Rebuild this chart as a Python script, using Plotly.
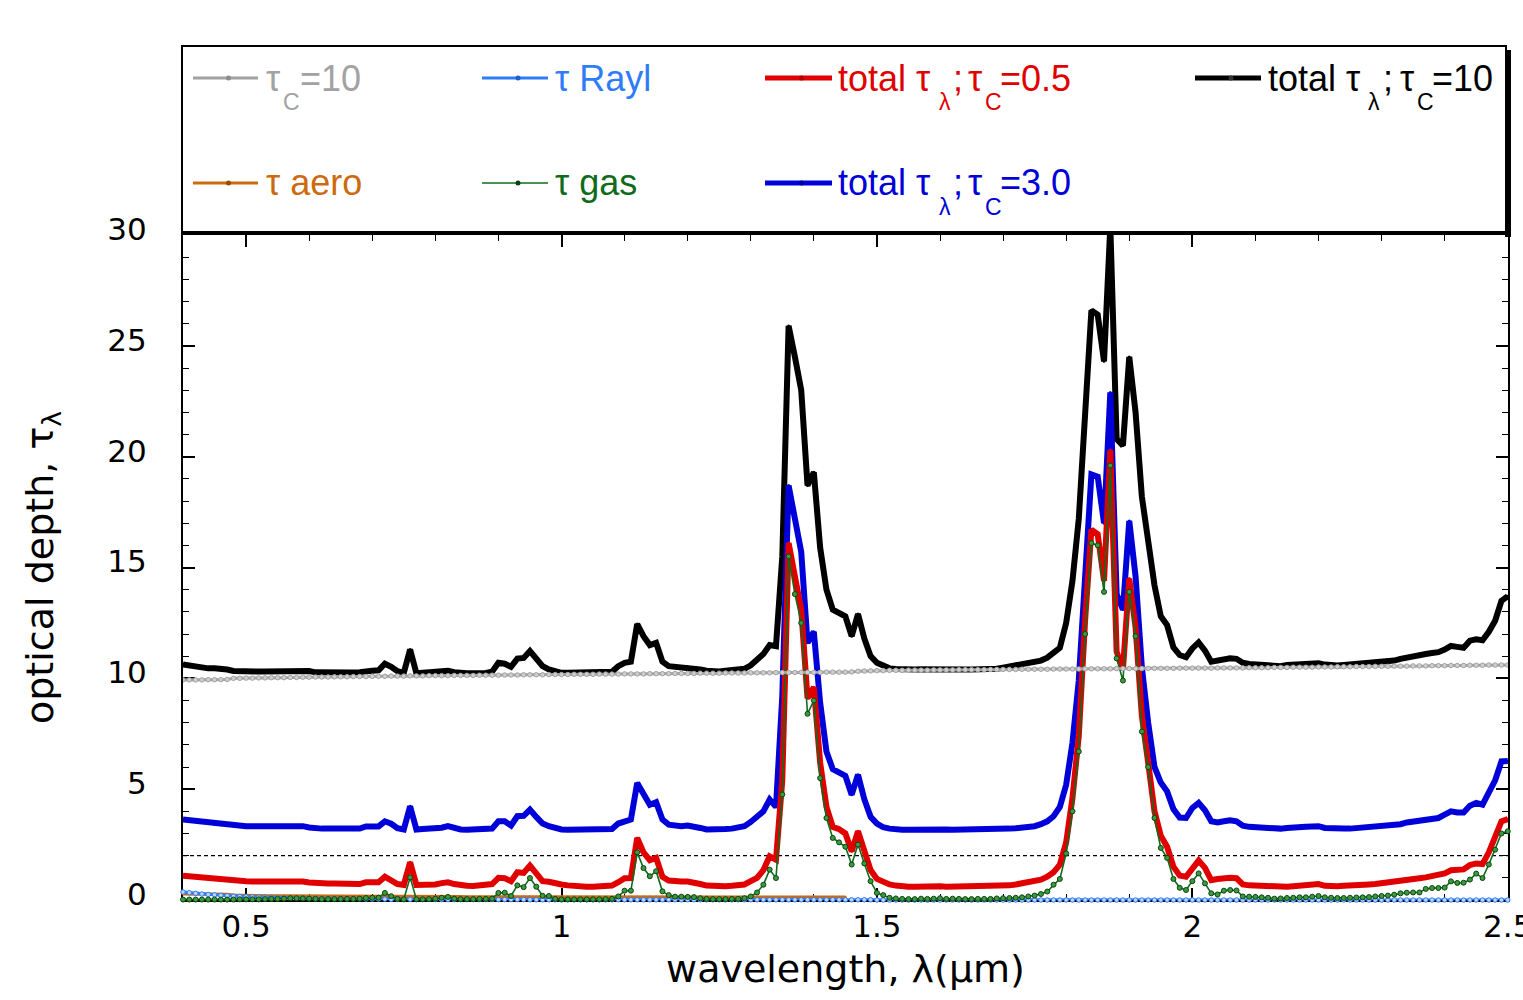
import plotly.graph_objects as go

# ---------------------------------------------------------------------------
# Spectral optical depth: gas, Rayleigh, aerosol and cloud contributions
# Sampling grid: 0.40 .. 2.50 um, every 0.01 um
# ---------------------------------------------------------------------------
WAVELENGTH_UM = [round(0.40 + 0.01 * i, 2) for i in range(211)]
AERO_WAVELENGTH_UM = WAVELENGTH_UM[:106]          # aerosol data 0.40 .. 1.45 um

TAU_GAS = [
    0.02, 0.02, 0.02, 0.02, 0.02, 0.02, 0.02, 0.02, 0.02, 0.03,
    0.03, 0.03, 0.03, 0.04, 0.05, 0.05, 0.06, 0.08, 0.08, 0.07,
    0.06, 0.05, 0.04, 0.04, 0.04, 0.05, 0.05, 0.05, 0.06, 0.09,
    0.10, 0.10, 0.32, 0.17, 0.05, 0.03, 1.02, 0.03, 0.03, 0.04,
    0.06, 0.10, 0.14, 0.06, 0.04, 0.04, 0.04, 0.05, 0.05, 0.06,
    0.32, 0.33, 0.18, 0.66, 0.58, 0.99, 0.60, 0.19, 0.18, 0.05,
    0.03, 0.03, 0.03, 0.03, 0.03, 0.03, 0.03, 0.04, 0.05, 0.16,
    0.42, 0.42, 2.15, 1.44, 1.07, 1.30, 0.39, 0.22, 0.15, 0.15,
    0.14, 0.13, 0.08, 0.05, 0.04, 0.04, 0.04, 0.05, 0.05, 0.08,
    0.16, 0.34, 0.69, 1.37, 0.99, 4.76, 15.5, 13.8, 12.5, 8.4,
    9.0, 5.5, 3.7, 2.8, 2.6, 2.4, 1.6, 2.5, 1.65, 0.85,
    0.32, 0.22, 0.10, 0.07, 0.05, 0.04, 0.04, 0.06, 0.05, 0.06,
    0.08, 0.05, 0.06, 0.05, 0.04, 0.04, 0.05, 0.05, 0.05, 0.07,
    0.08, 0.09, 0.10, 0.12, 0.16, 0.20, 0.27, 0.38, 0.69, 0.95,
    2.10, 4.00, 6.70, 12.0, 16.1, 16.0, 13.9, 19.6, 10.9, 9.9,
    13.9, 11.9, 7.6, 6.0, 3.7, 2.35, 1.9, 0.95, 0.55, 0.45,
    0.85, 1.20, 0.75, 0.30, 0.25, 0.42, 0.45, 0.43, 0.16, 0.15,
    0.14, 0.12, 0.10, 0.06, 0.07, 0.09, 0.10, 0.12, 0.12, 0.15,
    0.18, 0.12, 0.10, 0.09, 0.09, 0.10, 0.11, 0.12, 0.13, 0.16,
    0.18, 0.20, 0.24, 0.30, 0.33, 0.34, 0.34, 0.50, 0.54, 0.54,
    0.56, 0.84, 0.77, 0.78, 0.92, 1.19, 0.99, 1.60, 2.27, 3.00,
    3.10,
]

TAU_RAYL = [
    0.36, 0.33, 0.30, 0.27, 0.25, 0.23, 0.21, 0.19, 0.17, 0.16,
    0.15, 0.14, 0.13, 0.12, 0.11, 0.10, 0.09, 0.09, 0.08, 0.08,
    0.07, 0.07, 0.06, 0.06, 0.06, 0.05, 0.05, 0.05, 0.05, 0.04,
    0.04, 0.04, 0.04, 0.03, 0.03, 0.03, 0.03, 0.03, 0.03, 0.03,
    0.02, 0.02, 0.02, 0.02, 0.02, 0.02, 0.02, 0.02, 0.02, 0.02,
    0.02, 0.02, 0.02, 0.02, 0.02, 0.01, 0.01, 0.01, 0.01, 0.01,
    0.01, 0.01, 0.01, 0.01, 0.01, 0.01, 0.01, 0.01, 0.01, 0.01,
    0.01, 0.01, 0.01, 0.01, 0.01, 0.01, 0.01, 0.01, 0.01, 0.01,
    0.01, 0.01, 0.01, 0.01, 0.01, 0.01, 0.01, 0.01, 0.01, 0.01,
    0.01, 0.01, 0.01, 0.01, 0.01, 0.01, 0.01, 0.01, 0.01, 0.01,
    0.01, 0.01, 0.01, 0.01, 0.01, 0.01, 0.01, 0.01, 0.01, 0.01,
    0.00, 0.00, 0.00, 0.00, 0.00, 0.00, 0.00, 0.00, 0.00, 0.00,
    0.00, 0.00, 0.00, 0.00, 0.00, 0.00, 0.00, 0.00, 0.00, 0.00,
    0.00, 0.00, 0.00, 0.00, 0.00, 0.00, 0.00, 0.00, 0.00, 0.00,
    0.00, 0.00, 0.00, 0.00, 0.00, 0.00, 0.00, 0.00, 0.00, 0.00,
    0.00, 0.00, 0.00, 0.00, 0.00, 0.00, 0.00, 0.00, 0.00, 0.00,
    0.00, 0.00, 0.00, 0.00, 0.00, 0.00, 0.00, 0.00, 0.00, 0.00,
    0.00, 0.00, 0.00, 0.00, 0.00, 0.00, 0.00, 0.00, 0.00, 0.00,
    0.00, 0.00, 0.00, 0.00, 0.00, 0.00, 0.00, 0.00, 0.00, 0.00,
    0.00, 0.00, 0.00, 0.00, 0.00, 0.00, 0.00, 0.00, 0.00, 0.00,
    0.00, 0.00, 0.00, 0.00, 0.00, 0.00, 0.00, 0.00, 0.00, 0.00,
    0.00,
]

TAU_AERO = [
    0.28, 0.28, 0.27, 0.27, 0.26, 0.26, 0.25, 0.25, 0.21, 0.20,
    0.20, 0.19, 0.19, 0.19, 0.18, 0.18, 0.18, 0.18, 0.17, 0.17,
    0.17, 0.17, 0.17, 0.16, 0.16, 0.16, 0.16, 0.16, 0.16, 0.16,
    0.15, 0.15, 0.15, 0.15, 0.15, 0.15, 0.15, 0.15, 0.15, 0.15,
    0.15, 0.15, 0.15, 0.15, 0.15, 0.14, 0.14, 0.14, 0.14, 0.14,
    0.14, 0.14, 0.14, 0.14, 0.14, 0.14, 0.14, 0.14, 0.14, 0.14,
    0.14, 0.13, 0.13, 0.13, 0.13, 0.13, 0.13, 0.13, 0.13, 0.13,
    0.13, 0.13, 0.13, 0.13, 0.13, 0.13, 0.13, 0.13, 0.13, 0.13,
    0.13, 0.13, 0.12, 0.12, 0.12, 0.12, 0.12, 0.12, 0.12, 0.12,
    0.12, 0.12, 0.12, 0.12, 0.12, 0.12, 0.12, 0.12, 0.12, 0.12,
    0.12, 0.12, 0.12, 0.12, 0.12, 0.12,
]

TAU_CLOUD_10 = [
    9.93, 9.93, 9.93, 9.93, 9.94, 9.94, 9.94, 9.95, 10.00, 10.00,
    10.01, 10.01, 10.02, 10.02, 10.03, 10.03, 10.03, 10.04, 10.04, 10.05,
    10.05, 10.06, 10.06, 10.06, 10.07, 10.07, 10.07, 10.08, 10.08, 10.08,
    10.09, 10.09, 10.09, 10.10, 10.10, 10.10, 10.11, 10.11, 10.11, 10.12,
    10.12, 10.12, 10.12, 10.13, 10.13, 10.13, 10.13, 10.14, 10.14, 10.14,
    10.14, 10.15, 10.15, 10.15, 10.16, 10.16, 10.16, 10.16, 10.17, 10.17,
    10.17, 10.17, 10.18, 10.18, 10.18, 10.18, 10.19, 10.19, 10.19, 10.19,
    10.20, 10.20, 10.20, 10.20, 10.21, 10.21, 10.21, 10.21, 10.22, 10.22,
    10.22, 10.22, 10.23, 10.23, 10.23, 10.23, 10.24, 10.24, 10.24, 10.24,
    10.25, 10.25, 10.25, 10.25, 10.26, 10.26, 10.26, 10.26, 10.27, 10.27,
    10.27, 10.27, 10.28, 10.28, 10.28, 10.28, 10.29, 10.32, 10.33, 10.34,
    10.35, 10.35, 10.36, 10.36, 10.36, 10.37, 10.37, 10.37, 10.37, 10.38,
    10.38, 10.38, 10.38, 10.39, 10.39, 10.39, 10.39, 10.39, 10.40, 10.40,
    10.40, 10.40, 10.40, 10.41, 10.41, 10.41, 10.41, 10.41, 10.42, 10.42,
    10.42, 10.42, 10.42, 10.43, 10.43, 10.43, 10.43, 10.43, 10.44, 10.44,
    10.44, 10.44, 10.44, 10.45, 10.45, 10.45, 10.45, 10.45, 10.46, 10.46,
    10.46, 10.46, 10.46, 10.46, 10.47, 10.47, 10.47, 10.47, 10.47, 10.48,
    10.48, 10.48, 10.48, 10.49, 10.49, 10.49, 10.50, 10.50, 10.50, 10.50,
    10.51, 10.51, 10.51, 10.52, 10.52, 10.52, 10.53, 10.53, 10.53, 10.54,
    10.54, 10.54, 10.55, 10.55, 10.55, 10.56, 10.56, 10.56, 10.57, 10.57,
    10.57, 10.58, 10.58, 10.58, 10.59, 10.59, 10.59, 10.60, 10.60, 10.60,
    10.60,
]

TAU_TOTAL_C05 = [
    1.10, 1.07, 1.03, 1.00, 0.98, 0.95, 0.92, 0.91, 0.88, 0.86,
    0.85, 0.84, 0.84, 0.84, 0.84, 0.84, 0.84, 0.85, 0.86, 0.83,
    0.79, 0.76, 0.75, 0.75, 0.75, 0.75, 0.75, 0.74, 0.72, 0.80,
    0.80, 0.80, 1.05, 0.88, 0.72, 0.68, 1.70, 0.68, 0.68, 0.68,
    0.70, 0.76, 0.80, 0.72, 0.66, 0.64, 0.63, 0.64, 0.66, 0.72,
    1.00, 0.98, 0.85, 1.25, 1.22, 1.55, 1.20, 0.85, 0.82, 0.73,
    0.70, 0.66, 0.62, 0.60, 0.60, 0.60, 0.60, 0.62, 0.65, 0.80,
    0.98, 0.99, 2.80, 2.15, 1.80, 1.90, 1.05, 0.88, 0.84, 0.84,
    0.83, 0.80, 0.72, 0.65, 0.62, 0.62, 0.62, 0.64, 0.64, 0.70,
    0.85, 1.00, 1.35, 1.97, 1.82, 5.4, 16.1, 14.5, 13.1, 9.1,
    9.6, 6.2, 4.2, 3.3, 3.2, 3.0, 2.2, 3.1, 2.2, 1.35,
    0.95, 0.80, 0.70, 0.65, 0.60, 0.60, 0.60, 0.62, 0.60, 0.60,
    0.62, 0.60, 0.60, 0.60, 0.60, 0.60, 0.60, 0.60, 0.60, 0.62,
    0.65, 0.66, 0.70, 0.76, 0.78, 0.85, 0.92, 1.05, 1.25, 1.60,
    2.60, 4.6, 7.4, 12.6, 16.7, 16.5, 14.4, 20.3, 11.2, 10.4,
    14.5, 12.3, 8.3, 6.2, 4.0, 2.9, 2.4, 1.50, 1.10, 1.05,
    1.40, 1.78, 1.45, 0.90, 0.95, 1.00, 1.00, 0.98, 0.70, 0.66,
    0.64, 0.62, 0.62, 0.58, 0.56, 0.60, 0.62, 0.64, 0.66, 0.70,
    0.72, 0.64, 0.60, 0.62, 0.64, 0.64, 0.66, 0.68, 0.70, 0.72,
    0.75, 0.77, 0.80, 0.86, 0.92, 0.95, 0.98, 1.02, 1.08, 1.10,
    1.20, 1.34, 1.36, 1.38, 1.58, 1.65, 1.62, 2.15, 2.85, 3.55,
    3.65,
]

TAU_TOTAL_C3 = [
    3.63, 3.60, 3.56, 3.50, 3.47, 3.42, 3.40, 3.38, 3.34, 3.33,
    3.33, 3.33, 3.33, 3.33, 3.33, 3.33, 3.33, 3.34, 3.35, 3.33,
    3.27, 3.22, 3.22, 3.22, 3.22, 3.22, 3.22, 3.21, 3.22, 3.32,
    3.32, 3.32, 3.55, 3.44, 3.24, 3.18, 4.23, 3.18, 3.20, 3.20,
    3.20, 3.26, 3.33, 3.24, 3.18, 3.17, 3.17, 3.17, 3.18, 3.22,
    3.55, 3.55, 3.36, 3.78, 3.80, 4.08, 3.75, 3.45, 3.33, 3.24,
    3.18, 3.17, 3.17, 3.17, 3.17, 3.17, 3.17, 3.18, 3.20, 3.45,
    3.55, 3.63, 5.28, 4.75, 4.30, 4.41, 3.63, 3.40, 3.36, 3.33,
    3.36, 3.33, 3.25, 3.18, 3.17, 3.17, 3.20, 3.22, 3.28, 3.33,
    3.52, 3.78, 4.00, 4.53, 4.20, 9.2, 18.7, 17.2, 15.7, 11.6,
    12.1, 8.9, 6.7, 5.9, 5.75, 5.6, 4.75, 5.65, 4.55, 3.75,
    3.45, 3.28, 3.22, 3.18, 3.17, 3.17, 3.18, 3.20, 3.18, 3.18,
    3.20, 3.18, 3.17, 3.17, 3.17, 3.17, 3.17, 3.17, 3.18, 3.20,
    3.22, 3.22, 3.24, 3.26, 3.30, 3.33, 3.42, 3.55, 3.78, 4.20,
    5.2, 7.1, 9.9, 15.0, 19.2, 19.1, 17.0, 22.9, 13.8, 13.1,
    17.1, 14.6, 10.5, 8.0, 6.0, 5.3, 4.9, 4.10, 3.72, 3.70,
    4.15, 4.38, 4.05, 3.55, 3.50, 3.55, 3.60, 3.55, 3.35, 3.30,
    3.28, 3.25, 3.25, 3.22, 3.22, 3.25, 3.25, 3.28, 3.30, 3.32,
    3.33, 3.25, 3.22, 3.22, 3.22, 3.22, 3.24, 3.25, 3.28, 3.30,
    3.32, 3.34, 3.38, 3.42, 3.50, 3.55, 3.60, 3.62, 3.70, 3.70,
    3.85, 4.00, 3.95, 3.95, 4.25, 4.38, 4.30, 4.80, 5.40, 6.25,
    6.27,
]

TAU_TOTAL_C10 = [
    10.63, 10.58, 10.55, 10.47, 10.45, 10.45, 10.44, 10.40, 10.33, 10.31,
    10.31, 10.31, 10.31, 10.31, 10.31, 10.31, 10.31, 10.33, 10.36, 10.36,
    10.33, 10.27, 10.26, 10.28, 10.26, 10.24, 10.24, 10.26, 10.28, 10.34,
    10.34, 10.36, 10.66, 10.52, 10.32, 10.25, 11.30, 10.23, 10.24, 10.26,
    10.28, 10.32, 10.34, 10.28, 10.23, 10.23, 10.23, 10.23, 10.24, 10.30,
    10.70, 10.66, 10.52, 10.89, 10.92, 11.23, 10.90, 10.55, 10.40, 10.30,
    10.25, 10.25, 10.25, 10.25, 10.25, 10.25, 10.25, 10.27, 10.30, 10.55,
    10.70, 10.75, 12.45, 11.90, 11.50, 11.60, 10.75, 10.55, 10.52, 10.52,
    10.52, 10.48, 10.40, 10.34, 10.31, 10.31, 10.34, 10.37, 10.37, 10.43,
    10.59, 10.83, 11.10, 11.50, 11.45, 15.5, 25.9, 24.5, 23.0, 18.7,
    19.3, 15.9, 14.0, 13.1, 12.95, 12.8, 11.9, 12.9, 11.8, 11.0,
    10.70, 10.55, 10.45, 10.42, 10.40, 10.40, 10.40, 10.41, 10.40, 10.40,
    10.41, 10.40, 10.40, 10.40, 10.40, 10.40, 10.40, 10.40, 10.41, 10.43,
    10.48, 10.53, 10.57, 10.62, 10.66, 10.70, 10.80, 10.93, 11.16, 11.38,
    12.5, 14.4, 17.2, 22.5, 26.6, 26.4, 24.3, 30.4, 20.8, 20.5,
    24.5, 22.0, 18.2, 16.2, 14.2, 12.8, 12.4, 11.40, 11.05, 10.95,
    11.35, 11.62, 11.25, 10.75, 10.82, 10.88, 10.90, 10.88, 10.70, 10.65,
    10.63, 10.60, 10.58, 10.55, 10.55, 10.60, 10.62, 10.63, 10.63, 10.66,
    10.68, 10.62, 10.58, 10.58, 10.60, 10.62, 10.62, 10.64, 10.68, 10.74,
    10.76, 10.78, 10.80, 10.88, 10.95, 11.00, 11.05, 11.10, 11.14, 11.18,
    11.30, 11.46, 11.42, 11.38, 11.70, 11.76, 11.72, 12.10, 12.60, 13.50,
    13.70,
]

REFERENCE_TAU = 2.0

# Colours
GREY = "#a2a2a2"
RAYL_BLUE = "#2f7df6"
ORANGE = "#cc6a10"
GREEN = "#0f6b1c"
RED = "#e00000"
BLUE = "#0000d8"
BLACK = "#000000"

AXIS_FONT = "DejaVu Sans, Verdana, sans-serif"
LEGEND_FONT = "Liberation Sans Narrow, Liberation Sans, Arial, sans-serif"

fig = go.Figure()


def add_series(x, y, name, color, width, msize, mfill=None, mline=None,
               mline_w=0, clip=True):
    fig.add_trace(go.Scatter(
        x=x, y=y, name=name, mode="lines+markers",
        line=dict(color=color, width=width),
        marker=dict(size=msize, color=mfill or color,
                    line=dict(color=mline or color, width=mline_w)),
        showlegend=False, cliponaxis=clip,
    ))


# drawing order: thick totals first, thin components on top
add_series(WAVELENGTH_UM, TAU_TOTAL_C10, "total τλ; τC=10", BLACK, 6, 3)
add_series(WAVELENGTH_UM, TAU_TOTAL_C3, "total τλ; τC=3.0", BLUE, 6, 3)
add_series(WAVELENGTH_UM, TAU_TOTAL_C05, "total τλ; τC=0.5", RED, 6, 3)
add_series(AERO_WAVELENGTH_UM, TAU_AERO, "τ aero", ORANGE, 3.5, 3, clip=False)
add_series(WAVELENGTH_UM, TAU_RAYL, "τ Rayl", RAYL_BLUE, 3, 4.5,
           mfill="#bcd6ff", mline=RAYL_BLUE, mline_w=1, clip=False)
add_series(WAVELENGTH_UM, TAU_GAS, "τ gas", GREEN, 1.6, 5,
           mfill="#3c9a3c", mline="#0a4412", mline_w=1, clip=False)
add_series(WAVELENGTH_UM, TAU_CLOUD_10, "τC=10", GREY, 3, 4.5,
           mfill="#cfcfcf", mline=GREY, mline_w=1)

fig.add_hline(y=REFERENCE_TAU, layer="below",
              line=dict(color="black", width=1.3, dash="4px,3px"))

# ---------------------------------------------------------------------------
# Legend panel above the plot (pixel positions converted to paper units)
# ---------------------------------------------------------------------------
PLOT_L, PLOT_R, PLOT_T, PLOT_B = 183, 1508, 235, 900


def px(xp):
    return (xp - PLOT_L) / (PLOT_R - PLOT_L)


def py(yp):
    return (PLOT_B - yp) / (PLOT_B - PLOT_T)


shapes = []
# shadow strips (bottom and right) and the framed box
shapes.append(dict(type="rect", xref="paper", yref="paper", layer="above",
                   x0=px(187), x1=px(1511), y0=py(237), y1=py(231),
                   fillcolor="black", line=dict(width=0)))
shapes.append(dict(type="rect", xref="paper", yref="paper", layer="above",
                   x0=px(1505), x1=px(1511), y0=py(237), y1=py(50),
                   fillcolor="black", line=dict(width=0)))
shapes.append(dict(type="rect", xref="paper", yref="paper", layer="above",
                   x0=px(182), x1=px(1506), y0=py(232), y1=py(46),
                   fillcolor="rgba(0,0,0,0)", line=dict(color="black", width=2)))

ROW_Y = {1: 78, 2: 183}
SUB_DROP = 24

# (row, sample x0, sample x1, colour, sample width, dot colour, text pieces)
# text pieces: (x start, text, is_subscript)
legend_items = [
    (1, 193, 258, GREY, 3, "#8c8c8c",
     [(264, "τ", False), (281, "C", True), (298, "=10", False)]),
    (1, 482, 548, RAYL_BLUE, 3, "#1e5fc8",
     [(553, "τ Rayl", False)]),
    (1, 765, 832, RED, 5, "#b00000",
     [(836, "total τ", False), (937, "λ", True), (951, ";", False),
      (966, "τ", False), (983, "C", True), (998, "=0.5", False)]),
    (1, 1195, 1261, BLACK, 5, "#333333",
     [(1266, "total τ", False), (1366, "λ", True), (1381, ";", False),
      (1398, "τ", False), (1415, "C", True), (1430, "=10", False)]),
    (2, 193, 258, ORANGE, 3, "#9a4a00",
     [(264, "τ aero", False)]),
    (2, 482, 548, GREEN, 1.6, "#0a4412",
     [(553, "τ gas", False)]),
    (2, 765, 832, BLUE, 5, "#0000a0",
     [(836, "total τ", False), (937, "λ", True), (951, ";", False),
      (966, "τ", False), (983, "C", True), (998, "=3.0", False)]),
]

annotations = []
for row, x0, x1, col, w, dot, pieces in legend_items:
    yc = ROW_Y[row]
    shapes.append(dict(type="line", xref="paper", yref="paper", layer="above",
                       x0=px(x0), x1=px(x1), y0=py(yc), y1=py(yc),
                       line=dict(color=col, width=w)))
    xm = (x0 + x1) / 2 + 3
    shapes.append(dict(type="circle", xref="paper", yref="paper", layer="above",
                       x0=px(xm - 2.5), x1=px(xm + 2.5),
                       y0=py(yc + 2.5), y1=py(yc - 2.5),
                       fillcolor=dot, line=dict(width=0)))
    for xt, txt, is_sub in pieces:
        annotations.append(dict(
            xref="paper", yref="paper", x=px(xt),
            y=py(yc + (SUB_DROP if is_sub else 0)),
            xanchor="left", yanchor="middle", showarrow=False, text=txt,
            font=dict(family=LEGEND_FONT, size=23 if is_sub else 36, color=col),
        ))

fig.update_layout(
    width=1523, height=1000,
    margin=dict(l=PLOT_L, r=1523 - PLOT_R, t=PLOT_T, b=1000 - PLOT_B),
    paper_bgcolor="white", plot_bgcolor="white",
    showlegend=False,
    font=dict(family=AXIS_FONT, color="black"),
    shapes=shapes,
    annotations=annotations,
    xaxis=dict(
        range=[0.4, 2.5004], tickmode="linear", tick0=0.5, dtick=0.5,
        ticks="inside", ticklen=12, tickwidth=1.5, tickcolor="black",
        showline=True, linecolor="black", linewidth=2, mirror="allticks",
        layer="below traces",
        showgrid=False, zeroline=False,
        tickfont=dict(family=AXIS_FONT, size=31, color="black"),
        ticklabelstandoff=-2, ticklabeloverflow="allow",
        minor=dict(tickmode="linear", tick0=0.4, dtick=0.1, ticks="inside",
                   ticklen=6, tickwidth=1.2, tickcolor="black", showgrid=False),
        title=dict(text="wavelength, λ(µm)",
                   font=dict(family=AXIS_FONT, size=38), standoff=12),
        automargin=False,
    ),
    yaxis=dict(
        range=[0, 30], tickmode="linear", tick0=0, dtick=5,
        ticks="inside", ticklen=12, tickwidth=1.5, tickcolor="black",
        showline=True, linecolor="black", linewidth=2, mirror="allticks",
        layer="below traces",
        showgrid=False, zeroline=False,
        tickfont=dict(family=AXIS_FONT, size=31, color="black"),
        ticklabelstandoff=28, ticklabelshift=-6, ticklabeloverflow="allow",
        minor=dict(tickmode="linear", tick0=0, dtick=1, ticks="inside",
                   ticklen=6, tickwidth=1.2, tickcolor="black", showgrid=False),
        title=dict(text="optical depth, τ<sub>λ</sub>",
                   font=dict(family=AXIS_FONT, size=38), standoff=42),
        automargin=False,
    ),
)

fig.write_html("out.html")
